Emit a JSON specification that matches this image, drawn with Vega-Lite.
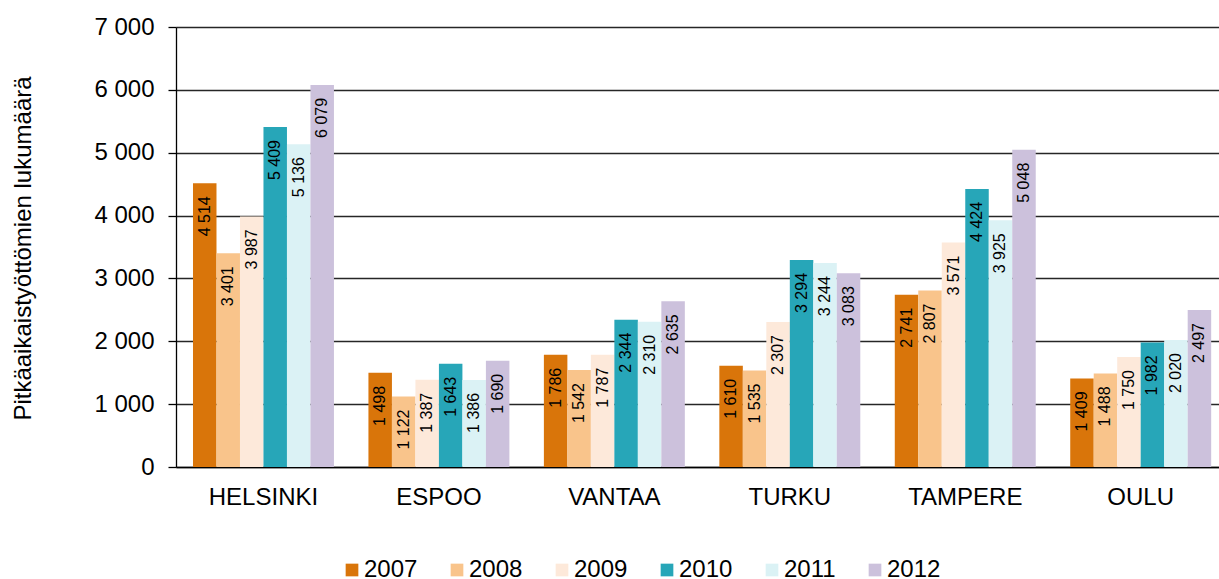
{
  "$schema": "https://vega.github.io/schema/vega-lite/v6.json",
  "autosize": {"type": "none"},
  "padding": {"left": 176, "top": 27, "right": 0, "bottom": 112},
  "width": 1043,
  "height": 440,
  "background": "white",
  "config": {
    "locale": {"number": {"decimal": ",", "thousands": " ", "grouping": [3], "currency": ["", " €"]}},
    "font": "Liberation Sans",
    "view": {"stroke": null},
    "axis": {"labelFont": "Liberation Sans", "titleFont": "Liberation Sans", "labelColor": "#000", "titleColor": "#000"},
    "legend": {"labelFont": "Liberation Sans"}
  },
  "data": {
    "values": [
      {"kunta": "HELSINKI", "vuosi": "2007", "arvo": 4514},
      {"kunta": "HELSINKI", "vuosi": "2008", "arvo": 3401},
      {"kunta": "HELSINKI", "vuosi": "2009", "arvo": 3987},
      {"kunta": "HELSINKI", "vuosi": "2010", "arvo": 5409},
      {"kunta": "HELSINKI", "vuosi": "2011", "arvo": 5136},
      {"kunta": "HELSINKI", "vuosi": "2012", "arvo": 6079},
      {"kunta": "ESPOO", "vuosi": "2007", "arvo": 1498},
      {"kunta": "ESPOO", "vuosi": "2008", "arvo": 1122},
      {"kunta": "ESPOO", "vuosi": "2009", "arvo": 1387},
      {"kunta": "ESPOO", "vuosi": "2010", "arvo": 1643},
      {"kunta": "ESPOO", "vuosi": "2011", "arvo": 1386},
      {"kunta": "ESPOO", "vuosi": "2012", "arvo": 1690},
      {"kunta": "VANTAA", "vuosi": "2007", "arvo": 1786},
      {"kunta": "VANTAA", "vuosi": "2008", "arvo": 1542},
      {"kunta": "VANTAA", "vuosi": "2009", "arvo": 1787},
      {"kunta": "VANTAA", "vuosi": "2010", "arvo": 2344},
      {"kunta": "VANTAA", "vuosi": "2011", "arvo": 2310},
      {"kunta": "VANTAA", "vuosi": "2012", "arvo": 2635},
      {"kunta": "TURKU", "vuosi": "2007", "arvo": 1610},
      {"kunta": "TURKU", "vuosi": "2008", "arvo": 1535},
      {"kunta": "TURKU", "vuosi": "2009", "arvo": 2307},
      {"kunta": "TURKU", "vuosi": "2010", "arvo": 3294},
      {"kunta": "TURKU", "vuosi": "2011", "arvo": 3244},
      {"kunta": "TURKU", "vuosi": "2012", "arvo": 3083},
      {"kunta": "TAMPERE", "vuosi": "2007", "arvo": 2741},
      {"kunta": "TAMPERE", "vuosi": "2008", "arvo": 2807},
      {"kunta": "TAMPERE", "vuosi": "2009", "arvo": 3571},
      {"kunta": "TAMPERE", "vuosi": "2010", "arvo": 4424},
      {"kunta": "TAMPERE", "vuosi": "2011", "arvo": 3925},
      {"kunta": "TAMPERE", "vuosi": "2012", "arvo": 5048},
      {"kunta": "OULU", "vuosi": "2007", "arvo": 1409},
      {"kunta": "OULU", "vuosi": "2008", "arvo": 1488},
      {"kunta": "OULU", "vuosi": "2009", "arvo": 1750},
      {"kunta": "OULU", "vuosi": "2010", "arvo": 1982},
      {"kunta": "OULU", "vuosi": "2011", "arvo": 2020},
      {"kunta": "OULU", "vuosi": "2012", "arvo": 2497}
    ]
  },
  "encoding": {
    "x": {
      "field": "kunta", "type": "nominal",
      "sort": ["HELSINKI", "ESPOO", "VANTAA", "TURKU", "TAMPERE", "OULU"],
      "scale": {"paddingInner": 0.1966, "paddingOuter": 0.0707, "align": 0.685},
      "axis": {
        "title": null, "labelAngle": 0, "labelFontSize": 24, "labelPadding": 18,
        "labelBaseline": "top", "ticks": false, "tickSize": 0,
        "domainColor": "#000", "domainWidth": 1.3, "grid": false
      }
    },
    "xOffset": {
      "field": "vuosi", "type": "nominal",
      "scale": {"paddingInner": 0, "paddingOuter": 0}
    },
    "y": {
      "field": "arvo", "type": "quantitative",
      "scale": {"domain": [0, 7000], "nice": false},
      "axis": {
        "title": "Pitkäaikaistyöttömien lukumäärä",
        "titleFontSize": 24, "titleFontWeight": "normal",
        "titleX": -153, "titleY": 221, "titleAngle": -90,
        "titleAlign": "center", "titleBaseline": "middle",
        "values": [0, 1000, 2000, 3000, 4000, 5000, 6000, 7000],
        "format": ",.0f", "labelFontSize": 24, "labelPadding": 14,
        "tickSize": 8, "tickColor": "#000", "tickWidth": 1.3,
        "domainColor": "#000", "domainWidth": 1.3,
        "grid": true, "gridColor": "#262626", "gridWidth": 1.3
      }
    }
  },
  "layer": [
    {
      "mark": {"type": "bar"},
      "encoding": {
        "color": {
          "field": "vuosi", "type": "nominal",
          "scale": {
            "domain": ["2007", "2008", "2009", "2010", "2011", "2012"],
            "range": ["#D9750A", "#F9C48B", "#FDE9DA", "#27A6B8", "#DBF2F5", "#CCC1DC"]
          },
          "legend": {
            "title": null, "orient": "none", "direction": "horizontal",
            "legendX": 164, "legendY": 531, "padding": 0,
            "symbolType": "square", "symbolSize": 161, "symbolStrokeWidth": 0,
            "labelFontSize": 24, "labelColor": "#000", "labelOffset": 0,
            "columnPadding": 27
          }
        }
      }
    },
    {
      "mark": {
        "type": "text", "angle": 270, "align": "right", "baseline": "middle",
        "dx": -13, "fontSize": 16, "font": "Liberation Sans", "color": "#000"
      },
      "encoding": {
        "text": {"field": "arvo", "type": "quantitative", "format": ","}
      }
    }
  ]
}
